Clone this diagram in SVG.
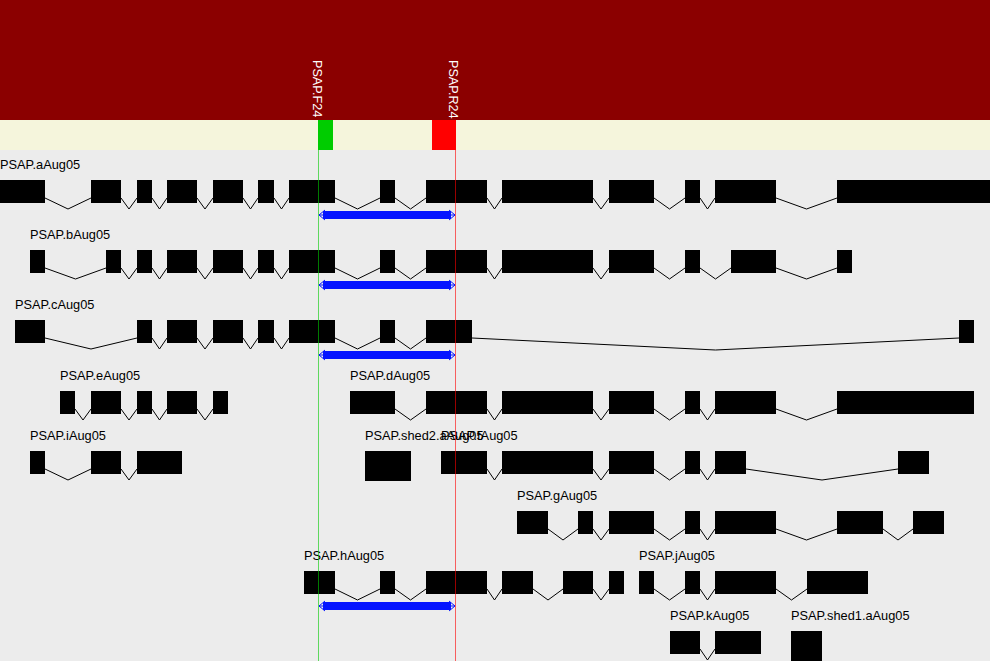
<svg xmlns="http://www.w3.org/2000/svg" width="990" height="661" viewBox="0 0 990 661">
<style>
.lbl{font-family:"Liberation Sans",Arial,sans-serif;font-size:12.8px;fill:#000}
.vl{font-family:"Liberation Sans",Arial,sans-serif;font-size:12.6px;fill:#fff}
.ex{fill:#000}
.in{fill:none;stroke:#000;stroke-width:1}
.arr rect{fill:#0514ff}
.arr path{fill:none;stroke:#0514ff;stroke-width:1}
</style>
<defs>
<g id="arrow" class="arr">
<rect x="323" y="-4" width="128" height="8"/>
<path d="M325,-5 L319,0 L325,5 M319,0 L326,0 M449,-5 L455,0 L449,5 M455,0 L448,0"/>
</g>
</defs>
<rect x="0" y="0" width="990" height="661" fill="#ececec"/>
<rect x="0" y="0" width="990" height="120" fill="#8b0000"/>
<rect x="0" y="120" width="990" height="30" fill="#f5f5dc"/>
<g id="primerF">
<rect x="318" y="120" width="15" height="30" fill="#00cc00"/>
<text class="vl" transform="translate(313,60) rotate(90)">PSAP.F24</text>
</g>
<g id="primerR">
<rect x="432" y="120" width="24" height="30" fill="#ff0000"/>
<text class="vl" transform="translate(449,60) rotate(90)">PSAP.R24</text>
</g>

<g id="PSAP.aAug05">
<text class="lbl" x="0" y="169">PSAP.aAug05</text>
<g class="ex">
<rect x="0" y="180" width="45" height="23"/><rect x="91" y="180" width="30" height="23"/><rect x="137" y="180" width="15" height="23"/><rect x="167" y="180" width="30" height="23"/><rect x="213" y="180" width="30" height="23"/><rect x="258" y="180" width="16" height="23"/><rect x="289" y="180" width="46" height="23"/><rect x="380" y="180" width="15" height="23"/><rect x="426" y="180" width="61" height="23"/><rect x="502" y="180" width="91" height="23"/><rect x="609" y="180" width="45" height="23"/><rect x="685" y="180" width="15" height="23"/><rect x="715" y="180" width="61" height="23"/><rect x="837" y="180" width="153" height="23"/>
</g>
<path class="in" d="M45,198L68,209L91,198M121,198L129,209L137,198M152,198L159.5,209L167,198M197,198L205,209L213,198M243,198L250.5,209L258,198M274,198L281.5,209L289,198M335,198L357.5,209L380,198M395,198L410.5,209L426,198M487,198L494.5,209L502,198M593,198L601,209L609,198M654,198L669.5,209L685,198M700,198L707.5,209L715,198M776,198L806.5,209L837,198"/>
</g>

<g id="PSAP.bAug05">
<text class="lbl" x="30" y="239">PSAP.bAug05</text>
<g class="ex">
<rect x="30" y="250" width="15" height="23"/><rect x="106" y="250" width="15" height="23"/><rect x="137" y="250" width="15" height="23"/><rect x="167" y="250" width="30" height="23"/><rect x="213" y="250" width="30" height="23"/><rect x="258" y="250" width="16" height="23"/><rect x="289" y="250" width="46" height="23"/><rect x="380" y="250" width="15" height="23"/><rect x="426" y="250" width="61" height="23"/><rect x="502" y="250" width="91" height="23"/><rect x="609" y="250" width="45" height="23"/><rect x="685" y="250" width="15" height="23"/><rect x="731" y="250" width="45" height="23"/><rect x="837" y="250" width="15" height="23"/>
</g>
<path class="in" d="M45,268L75.5,279L106,268M121,268L129,279L137,268M152,268L159.5,279L167,268M197,268L205,279L213,268M243,268L250.5,279L258,268M274,268L281.5,279L289,268M335,268L357.5,279L380,268M395,268L410.5,279L426,268M487,268L494.5,279L502,268M593,268L601,279L609,268M654,268L669.5,279L685,268M700,268L715.5,279L731,268M776,268L806.5,279L837,268"/>
</g>

<g id="PSAP.cAug05">
<text class="lbl" x="15" y="309">PSAP.cAug05</text>
<g class="ex">
<rect x="15" y="320" width="30" height="23"/><rect x="137" y="320" width="15" height="23"/><rect x="167" y="320" width="30" height="23"/><rect x="213" y="320" width="30" height="23"/><rect x="258" y="320" width="16" height="23"/><rect x="289" y="320" width="46" height="23"/><rect x="380" y="320" width="15" height="23"/><rect x="426" y="320" width="46" height="23"/><rect x="959" y="320" width="15" height="23"/>
</g>
<path class="in" d="M45,338L91,349L137,338M152,338L159.5,349L167,338M197,338L205,349L213,338M243,338L250.5,349L258,338M274,338L281.5,349L289,338M335,338L357.5,349L380,338M395,338L410.5,349L426,338M472,338L715.5,350L959,338"/>
</g>

<g id="PSAP.eAug05">
<text class="lbl" x="60" y="380">PSAP.eAug05</text>
<g class="ex">
<rect x="60" y="391" width="15" height="23"/><rect x="91" y="391" width="30" height="23"/><rect x="137" y="391" width="15" height="23"/><rect x="167" y="391" width="30" height="23"/><rect x="213" y="391" width="15" height="23"/>
</g>
<path class="in" d="M75,409L83,420L91,409M121,409L129,420L137,409M152,409L159.5,420L167,409M197,409L205,420L213,409"/>
</g>

<g id="PSAP.dAug05">
<text class="lbl" x="350" y="380">PSAP.dAug05</text>
<g class="ex">
<rect x="350" y="391" width="45" height="23"/><rect x="426" y="391" width="61" height="23"/><rect x="502" y="391" width="91" height="23"/><rect x="609" y="391" width="45" height="23"/><rect x="685" y="391" width="15" height="23"/><rect x="715" y="391" width="61" height="23"/><rect x="837" y="391" width="137" height="23"/>
</g>
<path class="in" d="M395,409L410.5,420L426,409M487,409L494.5,420L502,409M593,409L601,420L609,409M654,409L669.5,420L685,409M700,409L707.5,420L715,409M776,409L806.5,420L837,409"/>
</g>

<g id="PSAP.iAug05">
<text class="lbl" x="30" y="440">PSAP.iAug05</text>
<g class="ex">
<rect x="30" y="451" width="15" height="23"/><rect x="91" y="451" width="30" height="23"/><rect x="137" y="451" width="45" height="23"/>
</g>
<path class="in" d="M45,469L68,480L91,469M121,469L129,480L137,469"/>
</g>

<g id="PSAP.shed2.aAug05">
<text class="lbl" x="365" y="440">PSAP.shed2.aAug05</text>
<rect class="ex" x="365" y="451" width="46" height="30"/>
</g>

<g id="PSAP.fAug05">
<text class="lbl" x="441" y="440">PSAP.fAug05</text>
<g class="ex">
<rect x="441" y="451" width="46" height="23"/><rect x="502" y="451" width="91" height="23"/><rect x="609" y="451" width="45" height="23"/><rect x="685" y="451" width="15" height="23"/><rect x="715" y="451" width="31" height="23"/><rect x="898" y="451" width="31" height="23"/>
</g>
<path class="in" d="M487,469L494.5,480L502,469M593,469L601,480L609,469M654,469L669.5,480L685,469M700,469L707.5,480L715,469M746,469L822,480L898,469"/>
</g>

<g id="PSAP.gAug05">
<text class="lbl" x="517" y="500">PSAP.gAug05</text>
<g class="ex">
<rect x="517" y="511" width="31" height="23"/><rect x="578" y="511" width="15" height="23"/><rect x="609" y="511" width="45" height="23"/><rect x="685" y="511" width="15" height="23"/><rect x="715" y="511" width="61" height="23"/><rect x="837" y="511" width="46" height="23"/><rect x="913" y="511" width="31" height="23"/>
</g>
<path class="in" d="M548,529L563,540L578,529M593,529L601,540L609,529M654,529L669.5,540L685,529M700,529L707.5,540L715,529M776,529L806.5,540L837,529M883,529L898,540L913,529"/>
</g>

<g id="PSAP.hAug05">
<text class="lbl" x="304" y="560">PSAP.hAug05</text>
<g class="ex">
<rect x="304" y="571" width="31" height="23"/><rect x="380" y="571" width="15" height="23"/><rect x="426" y="571" width="61" height="23"/><rect x="502" y="571" width="31" height="23"/><rect x="563" y="571" width="30" height="23"/><rect x="609" y="571" width="15" height="23"/>
</g>
<path class="in" d="M335,589L357.5,600L380,589M395,589L410.5,600L426,589M487,589L494.5,600L502,589M533,589L548,600L563,589M593,589L601,600L609,589"/>
</g>

<g id="PSAP.jAug05">
<text class="lbl" x="639" y="560">PSAP.jAug05</text>
<g class="ex">
<rect x="639" y="571" width="15" height="23"/><rect x="685" y="571" width="15" height="23"/><rect x="715" y="571" width="61" height="23"/><rect x="807" y="571" width="61" height="23"/>
</g>
<path class="in" d="M654,589L669.5,600L685,589M700,589L707.5,600L715,589M776,589L791.5,600L807,589"/>
</g>

<g id="PSAP.kAug05">
<text class="lbl" x="670" y="620">PSAP.kAug05</text>
<g class="ex">
<rect x="670" y="631" width="30" height="23"/><rect x="715" y="631" width="46" height="23"/>
</g>
<path class="in" d="M700,649L707.5,660L715,649"/>
</g>

<g id="PSAP.shed1.aAug05">
<text class="lbl" x="791" y="620">PSAP.shed1.aAug05</text>
<rect class="ex" x="791" y="631" width="31" height="30"/>
</g>

<g id="connectors">
<use href="#arrow" y="215"/>
<use href="#arrow" y="285"/>
<use href="#arrow" y="355"/>
<use href="#arrow" y="606"/>
<line x1="318.5" y1="120" x2="318.5" y2="661" stroke="#00cc00" stroke-opacity="0.6"/>
<line x1="455.5" y1="120" x2="455.5" y2="661" stroke="#ff0000" stroke-opacity="0.6"/>
</g>
</svg>
